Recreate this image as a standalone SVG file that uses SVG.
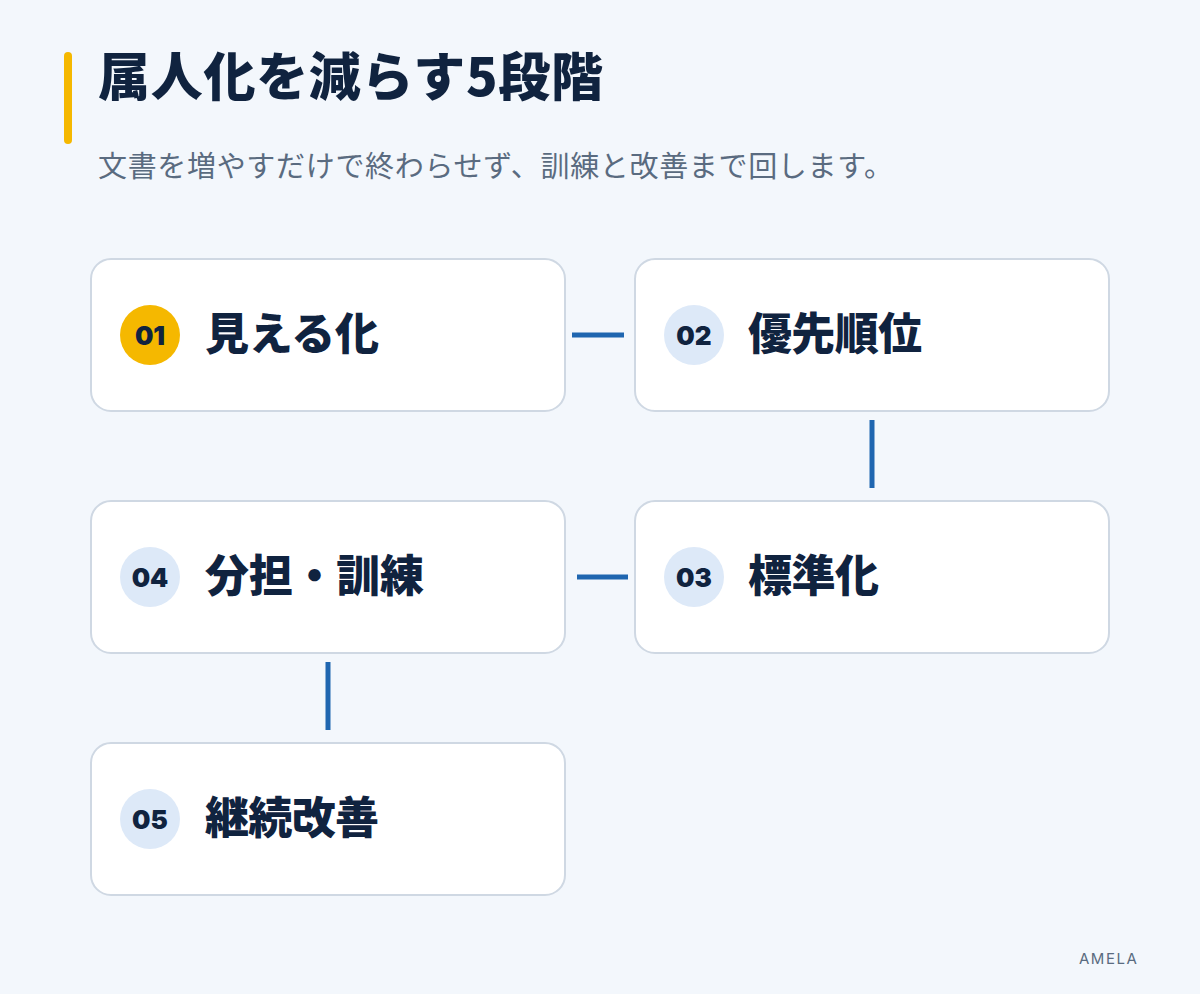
<svg xmlns="http://www.w3.org/2000/svg" width="1200" height="994" viewBox="0 0 1200 994">
<style>
.bg{fill:#f3f7fc}
.box{fill:#ffffff;stroke:#cfd8e3;stroke-width:2}
.num-bg{fill:#dde9f8}
.num-bg.active{fill:#f5b800}
.num{font-family:Inter,"Noto Sans",sans-serif;font-weight:900;font-size:26px;fill:#10233f;text-anchor:middle}
.label{font-family:"Noto Sans CJK JP",sans-serif;font-weight:900;font-size:44px;fill:#10233f}
.title{font-family:"Noto Sans CJK JP",sans-serif;font-weight:900;font-size:52px;fill:#10233f}
.sub{font-family:"Noto Sans CJK JP",sans-serif;font-weight:400;font-size:29px;fill:#5a6b80}
.brand{font-family:Inter,"Noto Sans",sans-serif;font-size:15px;fill:#5a6b80;letter-spacing:1.5px}
.conn{stroke:#1f66b0;stroke-width:5;fill:none}
</style>
<rect class="bg" x="0" y="0" width="1200" height="994"/>
<rect x="64" y="52" width="8" height="92" rx="4" fill="#f5b800"/>
<text class="title" x="98" y="96" textLength="505">属人化を減らす5段階</text>
<text class="sub" x="98" y="177" textLength="795">文書を増やすだけで終わらせず、訓練と改善まで回します。</text>
<g id="connectors">
<line class="conn" x1="572" y1="335" x2="624" y2="335"/>
<line class="conn" x1="872" y1="420" x2="872" y2="488"/>
<line class="conn" x1="577" y1="577" x2="628" y2="577"/>
<line class="conn" x1="328" y1="662" x2="328" y2="730"/>
</g>
<g id="step1">
<rect class="box" x="91" y="259" width="474" height="152" rx="20"/>
<circle class="num-bg active" cx="150" cy="335" r="30"/>
<text class="num" x="150" y="344.5">01</text>
<text class="label" x="205" y="350" textLength="174">見える化</text>
</g>
<g id="step2">
<rect class="box" x="635" y="259" width="474" height="152" rx="20"/>
<circle class="num-bg" cx="694" cy="335" r="30"/>
<text class="num" x="694" y="344.5">02</text>
<text class="label" x="748" y="350" textLength="174">優先順位</text>
</g>
<g id="step3">
<rect class="box" x="635" y="501" width="474" height="152" rx="20"/>
<circle class="num-bg" cx="694" cy="577" r="30"/>
<text class="num" x="694" y="586.5">03</text>
<text class="label" x="748" y="592" textLength="131">標準化</text>
</g>
<g id="step4">
<rect class="box" x="91" y="501" width="474" height="152" rx="20"/>
<circle class="num-bg" cx="150" cy="577" r="30"/>
<text class="num" x="150" y="586.5">04</text>
<text class="label" x="205" y="592" textLength="219">分担・訓練</text>
</g>
<g id="step5">
<rect class="box" x="91" y="743" width="474" height="152" rx="20"/>
<circle class="num-bg" cx="150" cy="819" r="30"/>
<text class="num" x="150" y="828.5">05</text>
<text class="label" x="205" y="834" textLength="174">継続改善</text>
</g>
<text class="brand" x="1079" y="964">AMELA</text>
</svg>
